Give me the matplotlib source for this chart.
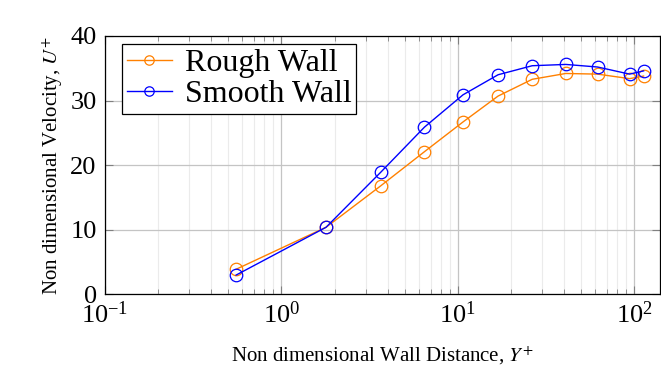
import numpy as np
import matplotlib
matplotlib.use("Agg")
import matplotlib.pyplot as plt
from matplotlib.ticker import LogLocator, NullFormatter

# Datos
y_plus = [0.553, 1.79, 3.65, 6.47, 10.7, 16.9, 26.4, 40.9, 62.0, 94.1, 113.0]
u_rough = [3.9, 10.4, 16.8, 22.1, 26.7, 30.7, 33.3, 34.2, 34.1, 33.4, 33.8]
u_smooth = [3.0, 10.4, 18.9, 25.9, 30.9, 34.0, 35.4, 35.6, 35.2, 34.1, 34.6]

plt.rcParams['font.family'] = ['Liberation Serif', 'DejaVu Serif']
plt.rcParams['mathtext.fontset'] = 'stix'

fig = plt.figure(figsize=(6.61, 3.85), dpi=100)
ax = fig.add_axes([0.1589, 0.2351, 0.8396, 0.6714])

ax.plot(y_plus, u_rough, color=(1.0, 0.5, 0.0), lw=1.0, marker='o', ms=9,
        mfc='none', mew=0.9, label='Rough Wall')
ax.plot(y_plus, u_smooth, color=(0.0, 0.0, 1.0), lw=1.0, marker='o', ms=9,
        mfc='none', mew=0.9, label='Smooth Wall')

ax.set_xscale('log')
ax.set_xlim(0.1, 140)
ax.set_ylim(0, 40)
ax.set_yticks([0, 10, 20, 30, 40])
ax.xaxis.set_minor_locator(LogLocator(base=10, subs=np.arange(2, 10)))
ax.xaxis.set_minor_formatter(NullFormatter())

ax.grid(which='major', color='#c4c4c4', lw=0.9)
ax.grid(which='minor', axis='x', color='#ebebeb', lw=0.8)
ax.set_axisbelow(True)

ax.tick_params(which='both', direction='in', top=True, right=True,
               labelsize=19, color='#808080')
ax.tick_params(which='major', length=6, width=0.8)
ax.tick_params(which='minor', length=3.5, width=0.6)
ax.tick_params(axis='x', which='major', pad=5)
ax.tick_params(axis='y', which='major', pad=6)
for s in ax.spines.values():
    s.set_linewidth(0.9)

ax.set_xlabel('Non dimensional Wall Distance, $Y^{+}$', fontsize=15, labelpad=12)
ax.set_ylabel('Non dimensional Velocity, $U^{+}$', fontsize=15, labelpad=4)

leg = ax.legend(loc='upper left', bbox_to_anchor=(0.031, 0.969),
                fontsize=23, markerscale=0.75, fancybox=False,
                edgecolor='black', framealpha=1, borderpad=0.15,
                handlelength=1.4, handletextpad=0.4, labelspacing=0.05,
                borderaxespad=0.0)
leg.get_frame().set_linewidth(0.9)

fig.savefig('out.png', dpi=100)
